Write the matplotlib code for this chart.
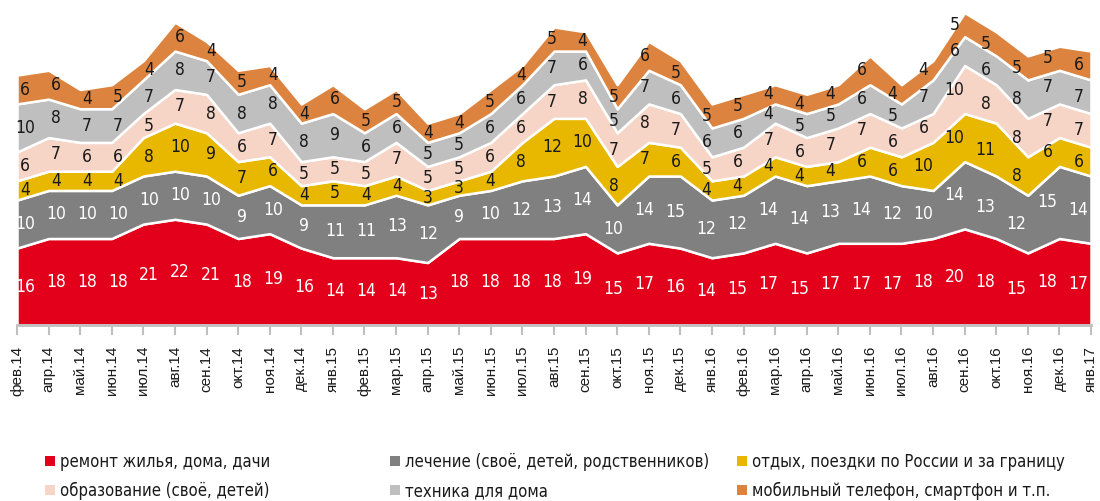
import matplotlib
matplotlib.use('Agg')
import matplotlib.pyplot as plt
import numpy as np
from matplotlib.patches import Patch
from matplotlib.font_manager import FontProperties

months = ['фев.14', 'апр.14', 'май.14', 'июн.14', 'июл.14', 'авг.14', 'сен.14', 'окт.14', 'ноя.14', 'дек.14',
          'янв.15', 'фев.15', 'мар.15', 'апр.15', 'май.15', 'июн.15', 'июл.15', 'авг.15', 'сен.15', 'окт.15',
          'ноя.15', 'дек.15', 'янв.16', 'фев.16', 'мар.16', 'апр.16', 'май.16', 'июн.16', 'июл.16', 'авг.16',
          'сен.16', 'окт.16', 'ноя.16', 'дек.16', 'янв.17']

repair = [16, 18, 18, 18, 21, 22, 21, 18, 19, 16, 14, 14, 14, 13, 18, 18, 18, 18, 19, 15,
          17, 16, 14, 15, 17, 15, 17, 17, 17, 18, 20, 18, 15, 18, 17]
medical = [10, 10, 10, 10, 10, 10, 10, 9, 10, 9, 11, 11, 13, 12, 9, 10, 12, 13, 14, 10,
           14, 15, 12, 12, 14, 14, 13, 14, 12, 10, 14, 13, 12, 15, 14]
travel = [4, 4, 4, 4, 8, 10, 9, 7, 6, 4, 5, 4, 4, 3, 3, 4, 8, 12, 10, 8,
          7, 6, 4, 4, 4, 4, 4, 6, 6, 10, 10, 11, 8, 6, 6]
education = [6, 7, 6, 6, 5, 7, 8, 6, 7, 5, 5, 5, 7, 5, 5, 6, 6, 7, 8, 7,
             8, 7, 5, 6, 7, 6, 7, 7, 6, 6, 10, 8, 8, 7, 7]
appliances = [10, 8, 7, 7, 7, 8, 7, 8, 8, 8, 9, 6, 6, 5, 5, 6, 6, 7, 6, 5,
              7, 6, 6, 6, 4, 5, 5, 6, 5, 7, 6, 6, 8, 7, 7]
phone = [6, 6, 4, 5, 4, 6, 4, 5, 4, 4, 6, 5, 5, 4, 4, 5, 4, 5, 4, 5,
         6, 5, 5, 5, 4, 4, 4, 6, 4, 4, 5, 5, 5, 5, 6]

names = ['ремонт жилья, дома, дачи', 'лечение (своё, детей, родственников)',
         'отдых, поездки по России и за границу', 'образование (своё, детей)',
         'техника для дома', 'мобильный телефон, смартфон и т.п.']
colors = ['#E2001A', '#808080', '#E8B800', '#F6D5C7', '#BFBFBF', '#DC843F']
label_colors = ['white', 'white', '#1a1a1a', '#1a1a1a', '#1a1a1a', '#1a1a1a']


def narrow(size):
    return FontProperties(family='DejaVu Sans', stretch='condensed', size=size)


def main():
    series = [repair, medical, travel, education, appliances, phone]
    x = np.arange(len(months))
    # value labels sit on a slightly tighter grid than the ticks
    label_x = 0.25 + 0.981 * x

    fig = plt.figure(figsize=(11, 5.01), dpi=100)
    ax = fig.add_axes([17 / 1100, 176 / 501, 1074 / 1100, 322 / 501])
    ax.stackplot(x, *series, colors=colors, edgecolor='white', linewidth=1.8)

    bottom = np.zeros(len(months))
    for vals, c in zip(series, label_colors):
        vals = np.array(vals)
        mid = bottom + vals / 2
        for i, v in enumerate(vals):
            ax.text(label_x[i], mid[i], str(v), ha='center', va='center', color=c,
                    fontproperties=narrow(12.5))
        bottom += vals

    ax.set_xlim(0, len(months) - 1)
    ax.set_ylim(0, 67)
    ax.set_yticks([])
    for s in ['top', 'left', 'right']:
        ax.spines[s].set_visible(False)
    ax.spines['bottom'].set_color('#BFBFBF')
    ax.spines['bottom'].set_linewidth(2)
    ax.spines['bottom'].set_zorder(5)
    ax.set_xticks(x)
    ax.set_xticklabels(months, rotation=90, fontsize=11, family='Liberation Sans', color='#1a1a1a')
    ax.tick_params(axis='x', length=7, width=1.5, color='#BFBFBF', pad=8)
    ax.margins(x=0)

    cols_x = [30 / 1100, 375 / 1100, 722 / 1100]
    for k in range(3):
        handles = [Patch(facecolor=colors[k], edgecolor='none'),
                   Patch(facecolor=colors[k + 3], edgecolor='none')]
        leg = fig.legend(handles, [names[k], names[k + 3]], loc='upper left',
                         bbox_to_anchor=(cols_x[k], 63 / 501), frameon=False,
                         handlelength=0.6, handleheight=0.6, handletextpad=0.3,
                         labelspacing=0.65, prop=narrow(12))
        for t in leg.get_texts():
            t.set_color('#1a1a1a')

    fig.savefig('out.png', dpi=100)


if __name__ == '__main__':
    main()
